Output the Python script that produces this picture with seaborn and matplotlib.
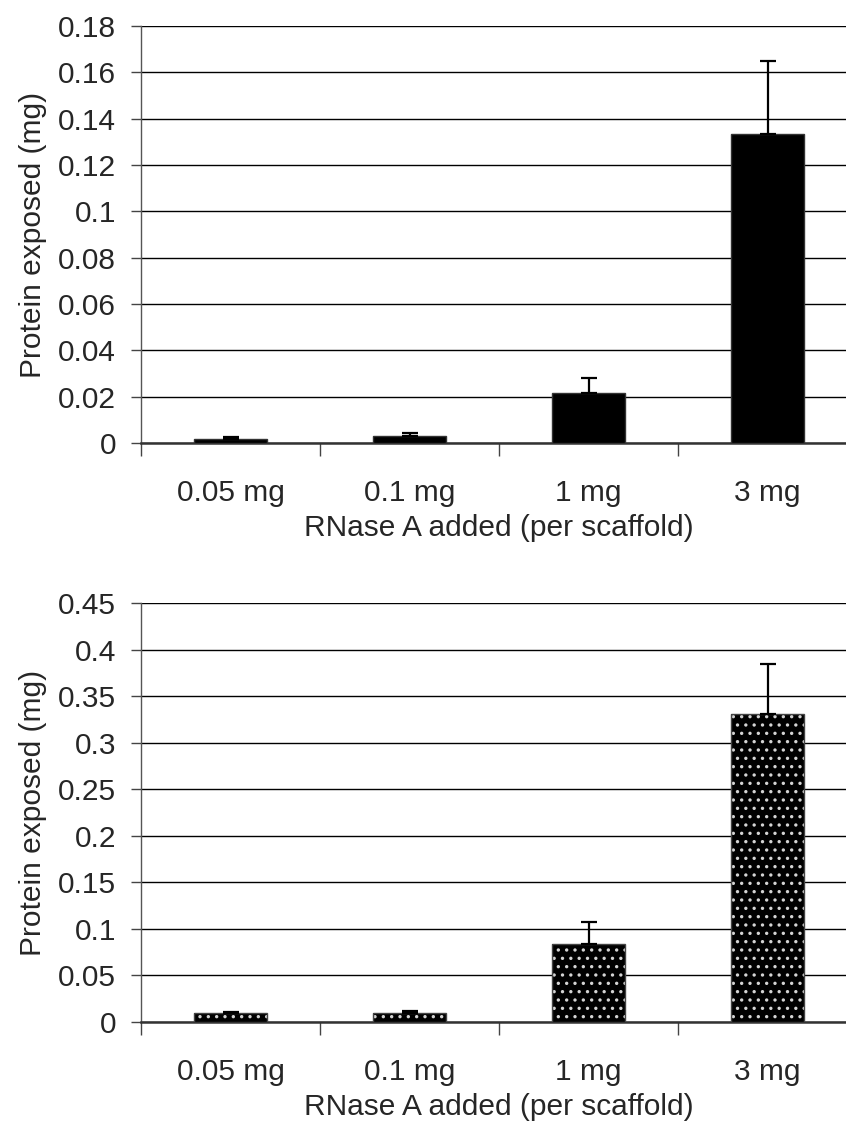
import matplotlib
matplotlib.use("Agg")
import matplotlib.pyplot as plt
import seaborn as sns
import numpy as np
import pandas as pd

categories = ["0.05 mg", "0.1 mg", "1 mg", "3 mg"]
top_values = [0.0018, 0.0030, 0.0215, 0.1335]
top_errors = [0.0007, 0.0013, 0.0065, 0.0313]
bottom_values = [0.0092, 0.0092, 0.0835, 0.331]
bottom_errors = [0.0016, 0.0028, 0.0240, 0.054]
top_yticks = [0, 0.02, 0.04, 0.06, 0.08, 0.1, 0.12, 0.14, 0.16, 0.18]
top_ylabels = ["0", "0.02", "0.04", "0.06", "0.08", "0.1", "0.12", "0.14", "0.16", "0.18"]
bottom_yticks = [0, 0.05, 0.1, 0.15, 0.2, 0.25, 0.3, 0.35, 0.4, 0.45]
bottom_ylabels = ["0", "0.05", "0.1", "0.15", "0.2", "0.25", "0.3", "0.35", "0.4", "0.45"]
xlabel = "RNase A added (per scaffold)"
ylabel = "Protein exposed (mg)"

sns.set_style("white")
plt.rcParams['font.family'] = ['Liberation Sans', 'DejaVu Sans']
plt.rcParams['hatch.linewidth'] = 1.2

fig = plt.figure(figsize=(8.46, 11.25), dpi=100)
W, H = 846, 1125
FS = 21.5

def make_ax(x0, x1, ytop, ybot):
    return fig.add_axes([x0 / W, 1 - ybot / H, (x1 - x0) / W, (ybot - ytop) / H])

ax1 = make_ax(141, 857, 26, 443)
ax2 = make_ax(141, 857, 603, 1022)

def draw(ax, vals, errs, yticks, ylabels, hatched):
    df = pd.DataFrame({"cat": categories, "val": vals})
    sns.barplot(data=df, x="cat", y="val", ax=ax, color="black", width=0.41,
                saturation=1, edgecolor="#333333", linewidth=1, zorder=3)
    if hatched:
        for p in ax.patches:
            p.set_hatch("..")
            p.set_edgecolor("#d4d4d4")
            p.set_linewidth(0)
        sns.barplot(data=df, x="cat", y="val", ax=ax, fill=False, width=0.41,
                    edgecolor="#444444", linewidth=1, zorder=4)
    xs = np.arange(len(categories))
    ax.errorbar(xs, vals, yerr=[np.zeros(len(vals)), errs], fmt="none",
                ecolor="black", elinewidth=1.6, capsize=6, capthick=1.6, zorder=5)
    ax.set_xlim(-0.5, 3.5)
    ax.set_ylim(yticks[0], yticks[-1])
    ax.set_yticks(yticks)
    ax.set_yticklabels(ylabels)
    ax.yaxis.grid(True, color="black", linewidth=1, zorder=0)
    ax.set_axisbelow(True)
    ax.set_xticks([-0.5, 0.5, 1.5, 2.5, 3.5])
    ax.set_xticklabels([])
    ax.set_xticks(xs, minor=True)
    ax.set_xticklabels(categories, minor=True)
    ax.tick_params(axis="x", which="major", length=9, width=1, color="#444444", direction="out", bottom=True)
    ax.tick_params(axis="x", which="minor", length=0, pad=26, labelsize=FS)
    ax.tick_params(axis="y", length=7, width=1, color="#444444", direction="out", left=True, labelsize=FS, pad=11)
    for s in ["top", "right"]:
        ax.spines[s].set_visible(False)
    ax.spines["left"].set_color("#555555")
    ax.spines["left"].set_linewidth(1)
    ax.spines["bottom"].set_color("#333333")
    ax.spines["bottom"].set_linewidth(1.8)
    ax.set_xlabel(xlabel, fontsize=FS, labelpad=5)
    ax.set_ylabel(ylabel, fontsize=FS, labelpad=8)

draw(ax1, top_values, top_errors, top_yticks, top_ylabels, False)
draw(ax2, bottom_values, bottom_errors, bottom_yticks, bottom_ylabels, True)

fig.savefig("out.png", dpi=100)
